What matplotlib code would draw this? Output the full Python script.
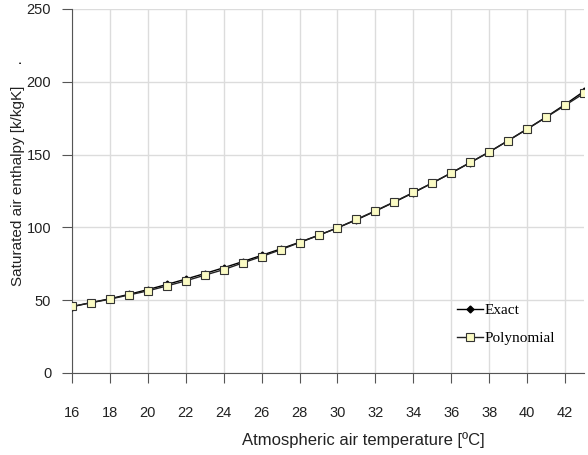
import matplotlib
matplotlib.use("Agg")
import matplotlib.pyplot as plt

plt.rcParams['font.family'] = ['Liberation Sans', 'DejaVu Sans']

# Data
temps = list(range(16, 44))
exact = [45.5, 48.3, 51.0, 54.0, 57.3, 60.8, 64.5, 68.3, 72.3, 76.5,
         80.8, 85.2, 89.8, 94.6, 99.7, 105.2, 111.2, 117.4, 123.8, 130.5,
         137.4, 144.5, 151.8, 159.6, 167.6, 175.8, 184.4, 193.5]
poly = [45.7, 48.3, 50.7, 53.6, 56.4, 59.8, 63.3, 67.2, 71.0, 75.6,
        80.0, 84.6, 89.6, 94.5, 99.7, 105.5, 111.4, 117.6, 124.0, 130.5,
        137.4, 144.6, 151.8, 159.6, 167.5, 175.6, 183.8, 192.1]
xticks = list(range(16, 43, 2))
yticks = [0, 50, 100, 150, 200, 250]

fig = plt.figure(figsize=(5.88, 4.55), dpi=100)
ax = fig.add_axes([72 / 588, 1 - 373 / 455, (584 - 72) / 588, (373 - 9) / 455])

ax.plot(temps, exact, color='black', lw=1.0, marker='D', ms=3.5,
        mfc='black', mec='black', label='Exact', zorder=3)
ax.plot(temps, poly, color='#222222', lw=1.0, marker='s', ms=6,
        mfc='#fbfbc4', mec='#333333', mew=0.8, label='Polynomial', zorder=4)

ax.set_xlim(16, 43)
ax.set_ylim(0, 250)
ax.set_xticks(xticks)
ax.set_yticks(yticks)
ax.grid(True, color='#dcdcdc', lw=1.0)
ax.set_axisbelow(True)
for s in ['top', 'right']:
    ax.spines[s].set_visible(False)
ax.spines['left'].set_color('#555555')
ax.spines['bottom'].set_color('#555555')
ax.tick_params(axis='x', direction='out', length=7, pad=17, labelsize=10.5,
               color='#555555', labelcolor='#222222')
ax.tick_params(axis='y', direction='out', length=7, pad=8, labelsize=10.5,
               color='#555555', labelcolor='#222222')

fig.text(18 / 588, 1 - 173 / 455, 'Saturated air enthalpy [k/kgK]     .',
         rotation=90, ha='center', va='center', fontsize=11, color='#222222')
fig.text(363 / 588, 1 - 440 / 455, 'Atmospheric air temperature [ºC]',
         ha='center', va='center', fontsize=12, color='#222222')

leg = ax.legend(loc='upper left', frameon=False,
                prop={'family': 'Liberation Serif', 'size': 11},
                handlelength=1.7, handletextpad=0.1, labelspacing=0.9)
leg.set_bbox_to_anchor((443 / 588, 1 - 290 / 455), transform=fig.transFigure)

fig.savefig('out.png', dpi=100)
